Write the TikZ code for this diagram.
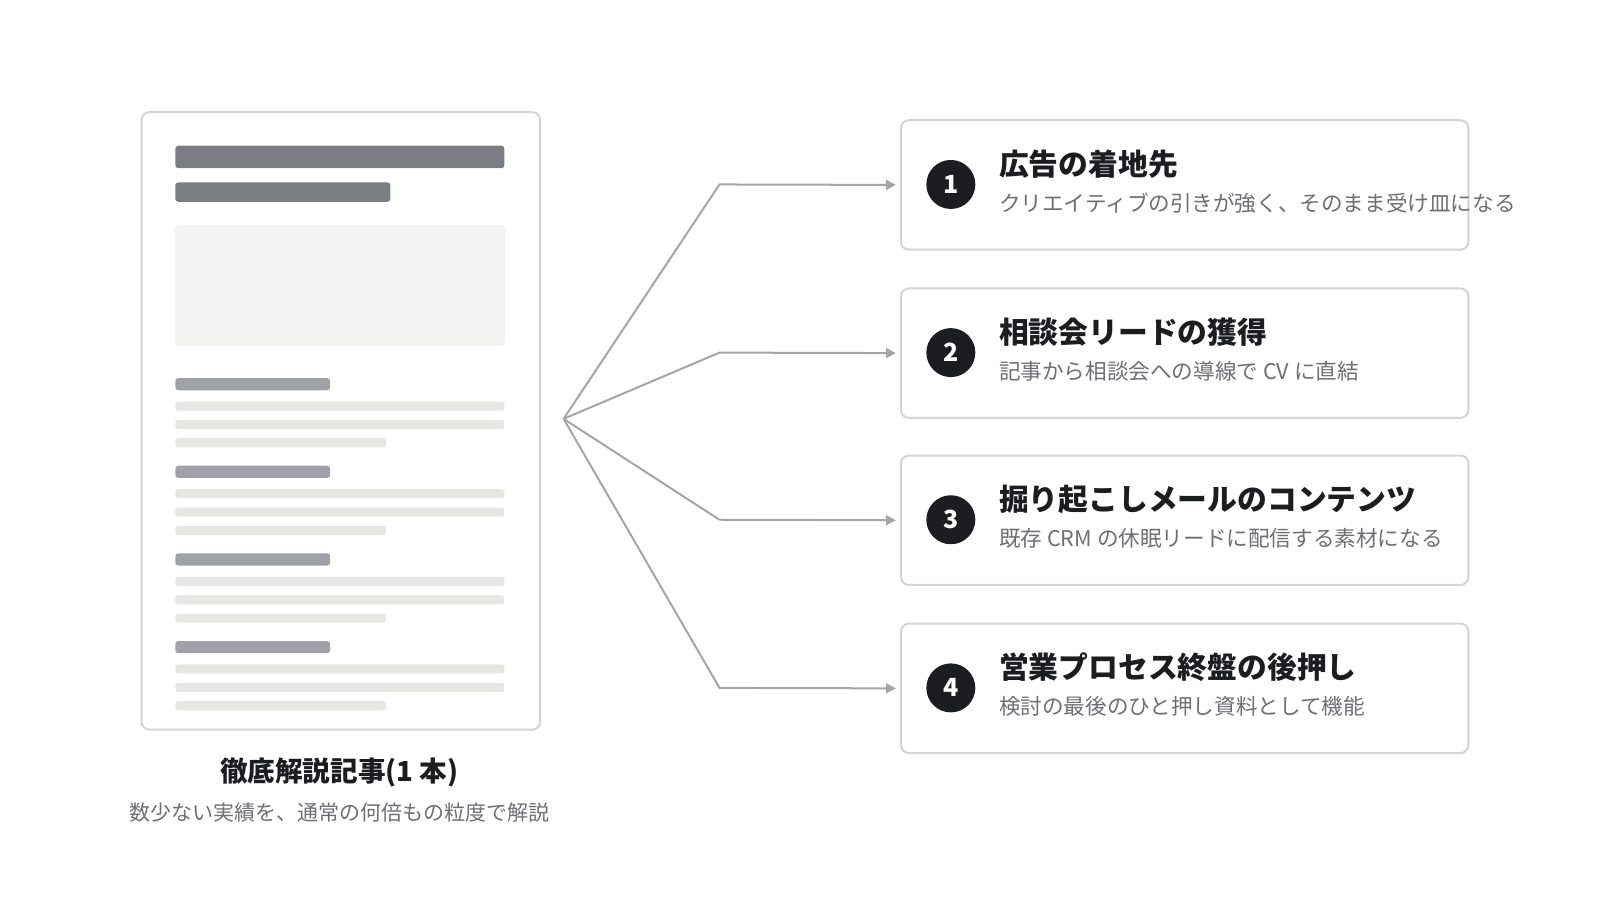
\documentclass[tikz,border=0pt]{standalone}
\usepackage{fontspec}
\setmainfont{Noto Sans CJK JP}
\usepackage{xcolor}
\usetikzlibrary{arrows.meta,positioning}
\definecolor{ink}{HTML}{1C1D21}
\definecolor{subgray}{HTML}{6E6F76}
\definecolor{edgegray}{HTML}{D4D4D8}
\definecolor{bardark}{HTML}{7B7D85}
\definecolor{barmid}{HTML}{A0A1A8}
\definecolor{barlight}{HTML}{E6E6E2}
\definecolor{imgfill}{HTML}{F4F4F2}
\definecolor{linkgray}{HTML}{A3A4AC}

\begin{document}
\begin{tikzpicture}[
  x=0.5096pt, y=-0.5096pt,
  card/.style={
    rectangle,
    draw=edgegray,
    fill=white,
    line width=1pt,
    rounded corners=4pt,
    minimum width=283.8pt,
    minimum height=64.7pt,
    anchor=north west
  },
  badge/.style={
    circle,
    fill=ink,
    text=white,
    minimum size=24.5pt,
    inner sep=0pt,
    font=\bfseries\fontsize{12.5}{12.5}\selectfont
  },
  headline/.style={
    anchor=west,
    inner sep=0pt,
    text=ink,
    font=\bfseries\fontsize{14.9}{17}\selectfont
  },
  subline/.style={
    anchor=west,
    inner sep=0pt,
    text=subgray,
    font=\fontsize{10.8}{13}\selectfont
  },
  bar/.style={fill=#1, rounded corners=1.5pt},
  link/.style={draw=linkgray, line width=1pt}
]
\useasboundingbox (0,0) rectangle (1570,883);

% --- ARTICLE MOCKUP (Left Side) ---
\node[draw=edgegray, line width=1pt, rounded corners=4pt, fill=white,
      minimum width=199.3pt, minimum height=308.8pt, anchor=north west] (doc) at (138,109) {};
\fill[bar=bardark] (172,143) rectangle (495,165);
\fill[bar=bardark] (172,179) rectangle (383,198);
\draw[fill=imgfill, draw=barlight!60, rounded corners=2pt] (172,221) rectangle (495,339);
\foreach \y in {371,457,543,629}{
  \fill[bar=barmid] (172,\y) rectangle (324,\y+12);
  \fill[bar=barlight] (172,\y+23) rectangle (495,\y+32);
  \fill[bar=barlight] (172,\y+41) rectangle (495,\y+50);
  \fill[bar=barlight] (172,\y+59) rectangle (379,\y+68);
}

\node[inner sep=0pt, text=ink, font=\bfseries\fontsize{13.8}{16}\selectfont] (doc_title) at (333,758) {徹底解説記事(1 本)};
\node[inner sep=0pt, text=subgray, font=\fontsize{10.5}{12}\selectfont] (doc_note) at (333,797) {数少ない実績を、通常の何倍もの粒度で解説};

% --- USES (Right Side) ---
\coordinate (hub) at (553,411);
\foreach \i/\y/\head/\sub in {
  1/117/広告の着地先/クリエイティブの引きが強く、そのまま受け皿になる,
  2/282/相談会リードの獲得/記事から相談会への導線で CV に直結,
  3/446/掘り起こしメールのコンテンツ/既存 CRM の休眠リードに配信する素材になる,
  4/611/営業プロセス終盤の後押し/検討の最後のひと押し資料として機能}{
  \node[card] (use\i) at (883,\y) {};
  \node[badge] (num\i) at (933,\y+64) {\i};
  \node[headline] (head\i) at (980,\y+44) {\head};
  \node[subline] (sub\i) at (980,\y+82) {\sub};
  \coordinate (bend\i) at (706,\y+64);
  \draw[link, -{Triangle[length=5pt,width=5pt]}] (hub) -- (bend\i) -- ([xshift=-2pt]use\i.west);
}
\end{tikzpicture}
\end{document}
